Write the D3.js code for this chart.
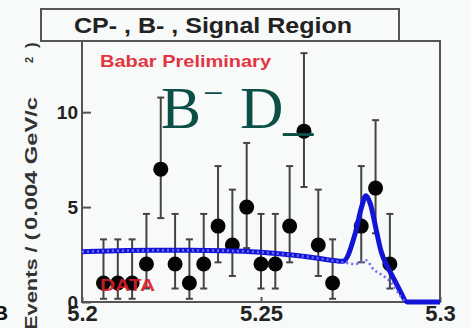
<!DOCTYPE html>
<html>
<head>
<meta charset="utf-8">
<script src="https://cdn.jsdelivr.net/npm/d3@7"></script>
<style>
  body { margin: 0; background: #f7faf8; }
  svg { display: block; }
  .tick text { font-family: "Liberation Sans", Arial, sans-serif; font-weight: bold; fill: #222; }
</style>
</head>
<body>
<div id="main"></div>
<script>
// bin centres (GeV/c^2) and event counts
const binMass = [5.206, 5.210, 5.214, 5.218, 5.222, 5.226, 5.230, 5.234, 5.238, 5.242,
                 5.246, 5.250, 5.254, 5.258, 5.262, 5.266, 5.270, 5.278, 5.282, 5.286];
const counts  = [1, 1, 1, 2, 7, 2, 1, 2, 4, 3, 5, 2, 2, 4, 9, 3, 1, 4, 6, 2];
// error bar ends
const errLow  = [0.17, 0.17, 0.17, 0.71, 4.42, 0.71, 0.17, 0.71, 2.09, 1.37,
                 2.84, 0.71, 0.71, 2.09, 6.06, 1.37, 0.17, 2.09, 3.62, 0.71];
const errHigh = [3.30, 3.30, 3.30, 4.64, 10.77, 4.64, 3.30, 4.64, 7.16, 5.92,
                 8.38, 4.64, 4.64, 7.16, 13.11, 5.92, 3.30, 7.16, 9.58, 4.64];

// fit curves
const fitMass  = [5.200, 5.210, 5.220, 5.230, 5.240, 5.250, 5.260, 5.266, 5.2729, 5.2763,
                  5.2781, 5.2793, 5.2805, 5.2824, 5.2835, 5.2852, 5.2869, 5.2888, 5.2908, 5.300];
const fitTotal = [2.65, 2.70, 2.72, 2.72, 2.70, 2.62, 2.45, 2.30, 2.15, 3.6,
                  5.0, 5.6, 5.2, 3.6, 2.7, 1.9, 1.3, 0.6, 0.0, 0.0];
const bkgMass  = [5.200, 5.210, 5.220, 5.230, 5.240, 5.250, 5.260, 5.266, 5.2729, 5.2763,
                  5.2793, 5.2815, 5.2840, 5.2865, 5.2890, 5.2905];
const bkgValue = [2.65, 2.70, 2.72, 2.72, 2.70, 2.62, 2.45, 2.30, 2.10, 2.0,
                  2.2, 1.7, 1.4, 1.0, 0.3, 0.0];

const xTicks = [5.2, 5.25, 5.3];
const yTicks = [0, 5, 10];

const w = 470, h = 328;
const padL = 82, padR = 440, padT = 41, padB = 302;

const svg = d3.select("#main").append("svg").attr("width", w).attr("height", h);

const xScale = d3.scaleLinear().domain([5.2, 5.3]).range([padL, padR]);
const yScale = d3.scaleLinear().domain([0, 13.75]).range([padB, padT]);

const font = "'Liberation Sans', Arial, sans-serif";

// title box
svg.append("rect")
    .attr("x", 41).attr("y", 9).attr("width", 358).attr("height", 32)
    .attr("fill", "none").attr("stroke", "#555").attr("stroke-width", 2);
svg.append("text")
    .attr("x", 74).attr("y", 33)
    .attr("textLength", 278).attr("lengthAdjust", "spacingAndGlyphs")
    .style("font-family", font).style("font-weight", "bold").style("font-size", "22px")
    .style("fill", "#222")
    .text("CP- , B- , Signal Region");

// frame
svg.append("rect")
    .attr("x", padL).attr("y", padT).attr("width", padR - padL).attr("height", padB - padT)
    .attr("fill", "none").attr("stroke", "#555").attr("stroke-width", 2);

// axes
const yAxis = d3.axisLeft(yScale).tickValues(yTicks).tickSizeInner(-9).tickSizeOuter(0).tickPadding(4);
const xAxis = d3.axisBottom(xScale).tickValues(xTicks).tickSizeInner(-5).tickSizeOuter(0)
    .tickPadding(3).tickFormat(d3.format("~g"));

const gy = svg.append("g").attr("transform", "translate(" + padL + ",0)").call(yAxis);
gy.select(".domain").remove();
gy.selectAll("line").attr("stroke", "#555").attr("stroke-width", 2);
gy.selectAll("text").style("font-size", "19px");

const gx = svg.append("g").attr("transform", "translate(0," + padB + ")").call(xAxis);
gx.select(".domain").remove();
gx.selectAll("line").attr("stroke", "#555").attr("stroke-width", 2);
gx.selectAll("text").style("font-size", "22px");

// y axis title, in pieces
const ylab = [
    {t: "Events / (", y: 330, len: 97},
    {t: "0.004 GeV/c", y: 230, len: 133}
];
ylab.forEach(function (d) {
    svg.append("text")
        .attr("transform", "translate(37," + d.y + ") rotate(-90)")
        .attr("textLength", d.len).attr("lengthAdjust", "spacingAndGlyphs")
        .style("font-family", font).style("font-weight", "bold").style("font-size", "17px")
        .style("fill", "#333")
        .text(d.t);
});
svg.append("text")
    .attr("transform", "translate(33,63) rotate(-90)")
    .style("font-family", font).style("font-weight", "bold").style("font-size", "11px")
    .style("fill", "#333").text("2");
svg.append("text")
    .attr("transform", "translate(37,48) rotate(-90)")
    .style("font-family", font).style("font-weight", "bold").style("font-size", "17px")
    .style("fill", "#333").text(")");

// clipped glyph bottom-left
svg.append("text")
    .attr("x", -7).attr("y", 320)
    .style("font-family", font).style("font-weight", "bold").style("font-size", "21px")
    .style("fill", "#111").text("B");

// labels
svg.append("text")
    .attr("x", 100).attr("y", 67)
    .attr("textLength", 171).attr("lengthAdjust", "spacingAndGlyphs")
    .style("font-family", font).style("font-weight", "bold").style("font-size", "17px")
    .style("fill", "#e23542")
    .text("Babar Preliminary");

// error bars
const pts = binMass.map(function (m, i) {
    return {m: m, n: counts[i], lo: errLow[i], hi: errHigh[i]};
});
const eb = svg.append("g").attr("stroke", "#444").attr("stroke-width", 2);
eb.selectAll("line.bar").data(pts).enter().append("line")
    .attr("class", "bar")
    .attr("x1", d => xScale(d.m)).attr("x2", d => xScale(d.m))
    .attr("y1", d => yScale(d.lo)).attr("y2", d => yScale(d.hi));
eb.selectAll("line.capHi").data(pts).enter().append("line")
    .attr("class", "capHi")
    .attr("x1", d => xScale(d.m) - 3.5).attr("x2", d => xScale(d.m) + 3.5)
    .attr("y1", d => yScale(d.hi)).attr("y2", d => yScale(d.hi));
eb.selectAll("line.capLo").data(pts).enter().append("line")
    .attr("class", "capLo")
    .attr("x1", d => xScale(d.m) - 3.5).attr("x2", d => xScale(d.m) + 3.5)
    .attr("y1", d => yScale(d.lo)).attr("y2", d => yScale(d.lo));

// markers
svg.selectAll("circle.dot").data(pts).enter().append("circle")
    .attr("class", "dot")
    .attr("cx", d => xScale(d.m))
    .attr("cy", d => yScale(d.n))
    .attr("r", 7.5)
    .style("fill", "#050505");

svg.append("text")
    .attr("x", 100).attr("y", 291)
    .attr("textLength", 55).attr("lengthAdjust", "spacingAndGlyphs")
    .style("font-family", font).style("font-weight", "bold").style("font-size", "16px")
    .style("fill", "#d81e2a").style("opacity", 0.9)
    .text("DATA");

// fit curves
const line = d3.line()
    .x(d => xScale(d[0]))
    .y(d => yScale(d[1]))
    .curve(d3.curveMonotoneX);

svg.append("path")
    .datum(fitMass.map((m, i) => [m, fitTotal[i]]))
    .attr("d", line)
    .attr("fill", "none").attr("stroke", "#1414d8").attr("stroke-width", 5)
    .attr("stroke-linejoin", "round");

svg.append("path")
    .datum(bkgMass.map((m, i) => [m, bkgValue[i]]))
    .attr("d", line)
    .attr("fill", "none").attr("stroke", "#6a6af2").attr("stroke-width", 2.5)
    .attr("stroke-dasharray", "2,3");

// big overlay text
const serif = "'Liberation Serif', 'Times New Roman', serif";
svg.append("text")
    .attr("x", 161).attr("y", 128)
    .style("font-family", serif).style("font-size", "60px").style("fill", "#0b4f47")
    .text("B");
svg.append("text")
    .attr("x", 203).attr("y", 105)
    .style("font-family", serif).style("font-size", "36px").style("fill", "#0b4f47")
    .text("\u2212");
svg.append("text")
    .attr("x", 240).attr("y", 128)
    .style("font-family", serif).style("font-size", "60px").style("fill", "#0b4f47")
    .text("D_");
</script>
</body>
</html>
